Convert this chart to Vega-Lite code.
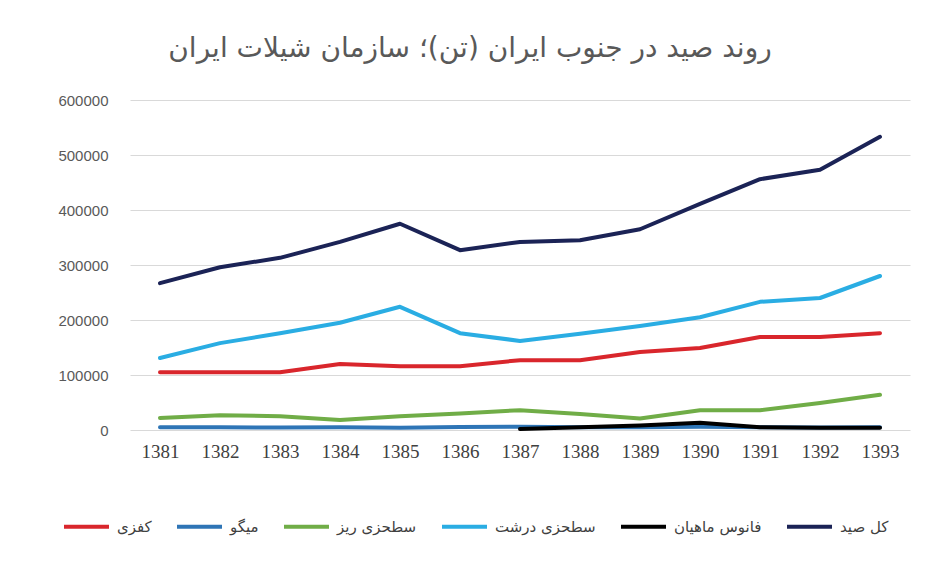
{
  "$schema": "https://vega.github.io/schema/vega-lite/v6.json",
  "autosize": "none",
  "width": 780,
  "height": 330,
  "padding": {"left": 130, "top": 100, "right": 19, "bottom": 132},
  "background": "white",
  "title": {
    "text": "روند صید در جنوب ایران (تن)؛ سازمان شیلات ایران",
    "font": "DejaVu Sans",
    "fontSize": 28,
    "fontWeight": "normal",
    "color": "#595959",
    "anchor": "middle",
    "dx": -50,
    "offset": 30
  },
  "data": {
    "values": [
      {"year": "1381", "series": "کفزی", "value": 105000},
      {"year": "1382", "series": "کفزی", "value": 105000},
      {"year": "1383", "series": "کفزی", "value": 105000},
      {"year": "1384", "series": "کفزی", "value": 120000},
      {"year": "1385", "series": "کفزی", "value": 116000},
      {"year": "1386", "series": "کفزی", "value": 116000},
      {"year": "1387", "series": "کفزی", "value": 127000},
      {"year": "1388", "series": "کفزی", "value": 127000},
      {"year": "1389", "series": "کفزی", "value": 142000},
      {"year": "1390", "series": "کفزی", "value": 149000},
      {"year": "1391", "series": "کفزی", "value": 169000},
      {"year": "1392", "series": "کفزی", "value": 169000},
      {"year": "1393", "series": "کفزی", "value": 176000},
      {"year": "1381", "series": "میگو", "value": 5000},
      {"year": "1382", "series": "میگو", "value": 5000},
      {"year": "1383", "series": "میگو", "value": 4500},
      {"year": "1384", "series": "میگو", "value": 5000},
      {"year": "1385", "series": "میگو", "value": 4000},
      {"year": "1386", "series": "میگو", "value": 5500},
      {"year": "1387", "series": "میگو", "value": 6000},
      {"year": "1388", "series": "میگو", "value": 5000},
      {"year": "1389", "series": "میگو", "value": 5000},
      {"year": "1390", "series": "میگو", "value": 6000},
      {"year": "1391", "series": "میگو", "value": 5000},
      {"year": "1392", "series": "میگو", "value": 4500},
      {"year": "1393", "series": "میگو", "value": 5000},
      {"year": "1381", "series": "سطحزی ریز", "value": 22000},
      {"year": "1382", "series": "سطحزی ریز", "value": 27000},
      {"year": "1383", "series": "سطحزی ریز", "value": 25000},
      {"year": "1384", "series": "سطحزی ریز", "value": 18000},
      {"year": "1385", "series": "سطحزی ریز", "value": 25000},
      {"year": "1386", "series": "سطحزی ریز", "value": 30000},
      {"year": "1387", "series": "سطحزی ریز", "value": 36000},
      {"year": "1388", "series": "سطحزی ریز", "value": 29000},
      {"year": "1389", "series": "سطحزی ریز", "value": 21000},
      {"year": "1390", "series": "سطحزی ریز", "value": 36000},
      {"year": "1391", "series": "سطحزی ریز", "value": 36000},
      {"year": "1392", "series": "سطحزی ریز", "value": 49000},
      {"year": "1393", "series": "سطحزی ریز", "value": 64000},
      {"year": "1381", "series": "سطحزی درشت", "value": 131000},
      {"year": "1382", "series": "سطحزی درشت", "value": 158000},
      {"year": "1383", "series": "سطحزی درشت", "value": 176000},
      {"year": "1384", "series": "سطحزی درشت", "value": 195000},
      {"year": "1385", "series": "سطحزی درشت", "value": 224000},
      {"year": "1386", "series": "سطحزی درشت", "value": 176000},
      {"year": "1387", "series": "سطحزی درشت", "value": 162000},
      {"year": "1388", "series": "سطحزی درشت", "value": 175000},
      {"year": "1389", "series": "سطحزی درشت", "value": 189000},
      {"year": "1390", "series": "سطحزی درشت", "value": 205000},
      {"year": "1391", "series": "سطحزی درشت", "value": 233000},
      {"year": "1392", "series": "سطحزی درشت", "value": 240000},
      {"year": "1393", "series": "سطحزی درشت", "value": 280000},
      {"year": "1387", "series": "فانوس ماهیان", "value": 2000},
      {"year": "1388", "series": "فانوس ماهیان", "value": 5000},
      {"year": "1389", "series": "فانوس ماهیان", "value": 8000},
      {"year": "1390", "series": "فانوس ماهیان", "value": 13000},
      {"year": "1391", "series": "فانوس ماهیان", "value": 5000},
      {"year": "1392", "series": "فانوس ماهیان", "value": 4000},
      {"year": "1393", "series": "فانوس ماهیان", "value": 4000},
      {"year": "1381", "series": "کل صید", "value": 267000},
      {"year": "1382", "series": "کل صید", "value": 296000},
      {"year": "1383", "series": "کل صید", "value": 313000},
      {"year": "1384", "series": "کل صید", "value": 342000},
      {"year": "1385", "series": "کل صید", "value": 375000},
      {"year": "1386", "series": "کل صید", "value": 327000},
      {"year": "1387", "series": "کل صید", "value": 342000},
      {"year": "1388", "series": "کل صید", "value": 345000},
      {"year": "1389", "series": "کل صید", "value": 365000},
      {"year": "1390", "series": "کل صید", "value": 411000},
      {"year": "1391", "series": "کل صید", "value": 456000},
      {"year": "1392", "series": "کل صید", "value": 473000},
      {"year": "1393", "series": "کل صید", "value": 533000}
    ]
  },
  "mark": {"type": "line", "interpolate": "linear", "strokeWidth": 4, "strokeJoin": "round", "strokeCap": "round"},
  "encoding": {
    "x": {
      "field": "year",
      "type": "ordinal",
      "scale": {"type": "point", "padding": 0.5},
      "axis": {
        "title": null,
        "labelAngle": 0,
        "labelFont": "Liberation Sans Narrow",
        "labelFontSize": 19,
        "labelColor": "#404040",
        "labelPadding": 12,
        "ticks": false,
        "domain": false,
        "grid": false
      }
    },
    "y": {
      "field": "value",
      "type": "quantitative",
      "scale": {"domain": [0, 600000]},
      "axis": {
        "title": null,
        "values": [0, 100000, 200000, 300000, 400000, 500000, 600000],
        "format": "d",
        "labelFont": "Liberation Sans",
        "labelFontSize": 15,
        "labelColor": "#595959",
        "labelPadding": 22,
        "ticks": false,
        "domain": false,
        "gridColor": "#d9d9d9",
        "gridWidth": 1
      }
    },
    "color": {
      "field": "series",
      "type": "nominal",
      "sort": ["کفزی", "میگو", "سطحزی ریز", "سطحزی درشت", "فانوس ماهیان", "کل صید"],
      "scale": {
        "domain": ["کفزی", "میگو", "سطحزی ریز", "سطحزی درشت", "فانوس ماهیان", "کل صید"],
        "range": ["#d9262c", "#2e75b6", "#70ad47", "#2aade3", "#000000", "#1b2356"]
      },
      "legend": {
        "title": null,
        "orient": "none",
        "direction": "horizontal",
        "legendX": -68,
        "legendY": 402,
        "symbolType": "stroke",
        "symbolSize": 2025,
        "symbolStrokeWidth": 4,
        "labelFont": "DejaVu Sans",
        "labelFontSize": 15,
        "labelColor": "#404040",
        "columnPadding": 17,
        "labelOffset": 6
      }
    },
    "order": {"field": "series"}
  },
  "config": {"view": {"stroke": null}}
}
